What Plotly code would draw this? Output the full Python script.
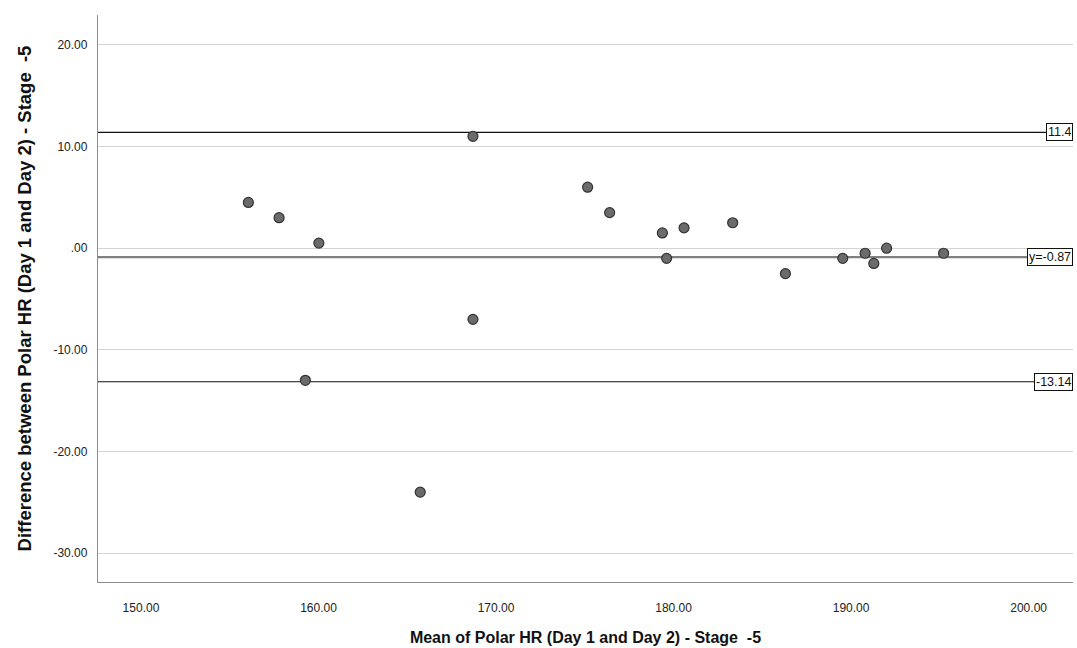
import plotly.graph_objects as go

# Data
mean_hr = [156.05, 157.78, 160.02, 159.26, 168.7, 168.7, 165.73, 175.16, 176.40,
           179.37, 179.61, 180.59, 183.33, 186.30, 189.53, 190.79, 191.28, 192.0, 195.21]
diff_hr = [4.5, 3.0, 0.5, -13.0, 11.0, -7.0, -24.0, 6.0, 3.5,
           1.5, -1.0, 2.0, 2.5, -2.5, -1.0, -0.5, -1.5, 0.0, -0.5]

mean_diff = -0.87
upper_loa = 11.4
lower_loa = -13.14

x_ticks = [150, 160, 170, 180, 190, 200]
x_ticktext = ["150.00", "160.00", "170.00", "180.00", "190.00", "200.00"]
y_ticks = [20, 10, 0, -10, -20, -30]
y_ticktext = ["20.00", "10.00", ".00", "-10.00", "-20.00", "-30.00"]

tick_font = dict(family="Liberation Sans Narrow, Arial Narrow, Liberation Sans, Arial", size=12, color="#222")
xtitle_font = dict(family="Liberation Sans, Arial", size=16, color="#111", weight="bold")
ytitle_font = dict(family="Liberation Sans, Arial", size=18.5, color="#111", weight="bold")

fig = go.Figure()
fig.add_trace(go.Scatter(
    x=mean_hr, y=diff_hr, mode="markers",
    marker=dict(size=10, color="#6b6b6b", line=dict(color="#333333", width=1.2)),
    showlegend=False, hoverinfo="x+y",
))

# reference lines
fig.add_shape(type="line", xref="paper", x0=0, x1=1, yref="y", y0=upper_loa, y1=upper_loa,
              line=dict(color="#111", width=1.2), layer="below")
fig.add_shape(type="line", xref="paper", x0=0, x1=1, yref="y", y0=lower_loa, y1=lower_loa,
              line=dict(color="#111", width=1.2), layer="below")
fig.add_shape(type="line", xref="paper", x0=0, x1=1, yref="y", y0=mean_diff, y1=mean_diff,
              line=dict(color="#808080", width=2.2), layer="below")

label_font = dict(family="Liberation Sans, Arial", size=12.5, color="#111")
for val, txt in [(upper_loa, "11.4"), (mean_diff, "y=-0.87"), (lower_loa, "-13.14")]:
    fig.add_annotation(xref="paper", x=1, xanchor="right", yref="y", y=val, yanchor="middle",
                       text=txt, showarrow=False, font=label_font,
                       bgcolor="white", bordercolor="#111", borderwidth=1, borderpad=1)

fig.update_layout(
    width=1077, height=648,
    margin=dict(l=98, r=4, t=15, b=64),
    plot_bgcolor="white", paper_bgcolor="white",
    font=dict(family="Liberation Sans, Arial"),
)
fig.update_xaxes(
    range=[147.58, 202.5], tickvals=x_ticks, ticktext=x_ticktext, tickfont=tick_font,
    showgrid=False, zeroline=False, showline=True, linecolor="#8c8c8c", linewidth=1.3,
    ticks="", ticklen=0, ticklabelstandoff=14,
    title=dict(text="Mean of Polar HR (Day 1 and Day 2) - Stage&nbsp; -5", font=xtitle_font, standoff=18),
)
fig.update_yaxes(
    range=[-32.84, 22.94], tickvals=y_ticks, ticktext=y_ticktext, tickfont=tick_font,
    showgrid=True, gridcolor="#d4d4d4", gridwidth=1.3, zeroline=False,
    showline=True, linecolor="#8c8c8c", linewidth=1.3, ticks="", ticklabelstandoff=7,
    title=dict(text="Difference between Polar HR (Day 1 and Day 2) - Stage&nbsp; -5", font=ytitle_font, standoff=16),
)

fig.write_html("out.html", config={"displayModeBar": False},
               post_script="document.body.style.margin='0';document.body.style.overflow='hidden';")
